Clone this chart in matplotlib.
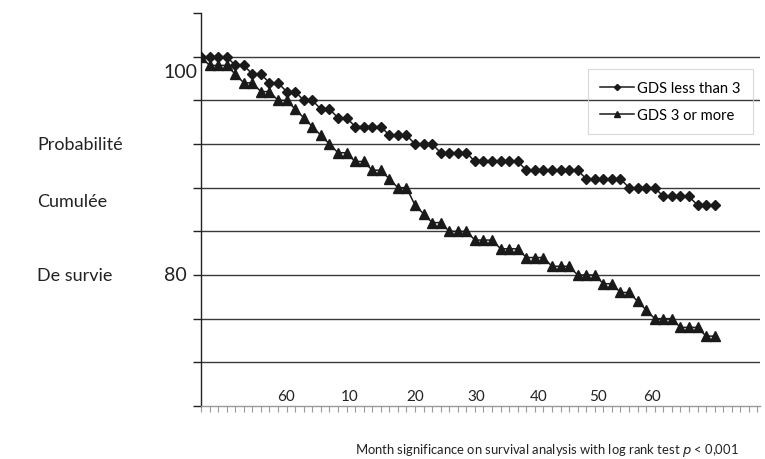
import numpy as np
import matplotlib
matplotlib.use("Agg")
import matplotlib.pyplot as plt

plt.rcParams['font.family'] = ['Lato', 'DejaVu Sans']

# survival curves (one point per month step)
gds_low = [100, 100, 100, 100, 99.2, 99.2, 98.4, 98.4, 97.6, 97.6,
           96.8, 96.8, 96.0, 96.0, 95.2, 95.2, 94.4, 94.4, 93.6, 93.6,
           93.6, 93.6, 92.8, 92.8, 92.8, 92.0, 92.0, 92.0, 91.2, 91.2,
           91.2, 91.2, 90.4, 90.4, 90.4, 90.4, 90.4, 90.4, 89.6, 89.6,
           89.6, 89.6, 89.6, 89.6, 89.6, 88.8, 88.8, 88.8, 88.8, 88.8,
           88.0, 88.0, 88.0, 88.0, 87.2, 87.2, 87.2, 87.2, 86.4, 86.4,
           86.4]
gds_high = [100, 99.2, 99.2, 99.2, 98.4, 97.6, 97.6, 96.8, 96.8, 96.0,
            96.0, 95.2, 94.4, 93.6, 92.8, 92.0, 91.2, 91.2, 90.4, 90.4,
            89.6, 89.6, 88.8, 88.0, 88.0, 86.4, 85.6, 84.8, 84.8, 84.0,
            84.0, 84.0, 83.2, 83.2, 83.2, 82.4, 82.4, 82.4, 81.6, 81.6,
            81.6, 80.8, 80.8, 80.8, 80.0, 80.0, 80.0, 79.2, 79.2, 78.4,
            78.4, 77.6, 76.8, 76.0, 76.0, 76.0, 75.2, 75.2, 75.2, 74.4,
            74.4]
series_names = ["GDS less than 3", "GDS 3 or more"]

month_labels = ["60", "10", "20", "30", "40", "50", "60"]
month_label_pos = [9.9, 17.4, 25.0, 32.2, 39.5, 46.4, 52.7]

side_labels = ["Probabilité", "Cumulée", "De survie"]

W, H = 765, 460
fig = plt.figure(figsize=(W / 100, H / 100), dpi=100)
ax = fig.add_axes([201 / W, (H - 407) / H, (760 - 201) / W, (407 - 14) / H])

x = np.arange(len(gds_low))
ax.plot(x, gds_low, color="#1a1a1a", lw=1.1, marker="D", ms=5.2,
        mfc="#1a1a1a", mec="#1a1a1a", label=series_names[0], zorder=3)
ax.plot(np.arange(len(gds_high)), gds_high, color="#1a1a1a", lw=1.1,
        marker="^", ms=7, mfc="#1a1a1a", mec="#1a1a1a",
        label=series_names[1], zorder=3)

ax.set_xlim(0, 65.3)
ax.set_ylim(68, 104)

for v in np.arange(72, 101, 4):
    ax.axhline(v, color="#3a3a3a", lw=1.0, zorder=1)

ax.set_yticks(np.arange(68, 105, 4))
ax.set_yticklabels([])
ax.tick_params(axis="y", direction="out", length=6, width=1, color="#222222")
ax.set_xticks(np.arange(0, 66))
ax.set_xticklabels([])
ax.tick_params(axis="x", direction="out", length=4, width=0.8, color="#999999")

for s in ["top", "right"]:
    ax.spines[s].set_visible(False)
ax.spines["left"].set_color("#222222")
ax.spines["left"].set_linewidth(1.0)
ax.spines["bottom"].set_color("#999999")
ax.spines["bottom"].set_linewidth(1.0)

for lab, pos in zip(month_labels, month_label_pos):
    ax.text(pos, 68.9, lab, ha="center", va="center", fontsize=11,
            color="#222222")

leg = ax.legend(loc="upper left", bbox_to_anchor=((588 - 201) / 559, (407 - 70) / 393),
                frameon=True, fontsize=10.6, markerscale=0.6, handlelength=2.3,
                borderpad=0.8, labelspacing=0.9, handletextpad=0.25,
                fancybox=False, borderaxespad=0)
leg.get_frame().set_facecolor("none")
leg.get_frame().set_edgecolor("#d0d0d0")
leg.get_frame().set_linewidth(0.8)

def fig_text(px, py, s, **kw):
    fig.text(px / W, 1 - py / H, s, **kw)

for lab, py in zip(side_labels, [145, 202, 276]):
    fig_text(37, py, lab, ha="left", va="center", fontsize=13, color="#222222")
fig_text(163, 72, "100", ha="left", va="center", fontsize=14, color="#222222")
fig_text(164, 276, "80", ha="left", va="center", fontsize=14, color="#222222")

fig_text(547, 451, "Month significance on survival analysis with log rank test $\\it{p}$ < 0,001",
         ha="center", va="center", fontsize=9.4, color="#222222")

fig.savefig("out.png", dpi=100)
